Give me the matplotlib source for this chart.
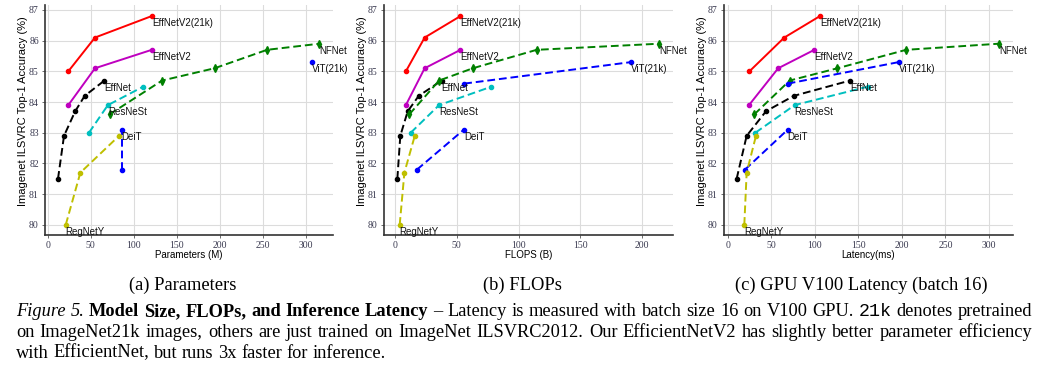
import numpy as np
import matplotlib
matplotlib.use("Agg")
import matplotlib.pyplot as plt

# ---------------- data ----------------
acc_effv2_21k = [85.0, 86.1, 86.8]
params_effv2_21k = [24, 55, 121]
flops_effv2_21k = [8.8, 24, 53]
lat_effv2_21k = [25, 65, 106]

acc_effv2 = [83.9, 85.1, 85.7]
params_effv2 = [24, 55, 121]
flops_effv2 = [8.8, 24, 53]
lat_effv2 = [24.5, 58, 99.5]

acc_effnet = [81.5, 82.9, 83.7, 84.2, 84.7]
params_effnet = [12, 19, 32, 43, 66]
flops_effnet = [1.9, 4.3, 10.3, 19.2, 37.8]
lat_effnet = [10.3, 21.8, 44, 75.8, 140.5]

acc_nfnet = [83.6, 84.7, 85.1, 85.7, 85.9]
params_nfnet = [72, 133, 194, 255, 316]
flops_nfnet = [11.6, 35.7, 63, 114.6, 214]
lat_nfnet = [30.6, 71.2, 126, 204.8, 311.5]

acc_vit = [84.6, 85.3]
params_vit = [np.nan, 307]
flops_vit = [56, 191]
lat_vit = [68.9, 196.3]

acc_resnest = [83.0, 83.9, 84.5]
params_resnest = [48, 70, 111]
flops_resnest = [12.7, 35.7, 78]
lat_resnest = [31.8, 76.9, 160.7]

acc_deit = [81.8, 83.1]
params_deit = [86, 86]
flops_deit = [17.8, 55.7]
lat_deit = [19.9, 68.9]

acc_regnety = [80.0, 81.7, 82.9]
params_regnety = [21, 38, 83]
flops_regnety = [3.8, 7.6, 16]
lat_regnety = [19.1, 21.8, 32.5]

model_names = ["EffNetV2(21k)", "EffNetV2", "EffNet", "NFNet", "ViT(21k)",
               "ResNeSt", "DeiT", "RegNetY"]
x_labels = ["Parameters (M)", "FLOPS (B)", "Latency(ms)"]
sub_captions = ["(a) Parameters", "(b) FLOPs", "(c) GPU V100 Latency (batch 16)"]
y_label = "Imagenet ILSVRC Top-1 Accuracy (%)"

# ---------------- styles ----------------
styles = {
    "EffNetV2(21k)": dict(color="r", ls="-", marker="o", label_idx=-1),
    "EffNetV2": dict(color="m", ls="-", marker="o", label_idx=-1),
    "EffNet": dict(color="k", ls="--", marker="o", label_idx=-1),
    "NFNet": dict(color="g", ls="--", marker="d", label_idx=-1),
    "ViT(21k)": dict(color="b", ls="--", marker="o", label_idx=-1),
    "ResNeSt": dict(color="c", ls="--", marker="o", label_idx=1),
    "DeiT": dict(color="b", ls="--", marker="o", label_idx=-1),
    "RegNetY": dict(color="y", ls="--", marker="o", label_idx=0),
}

accs = [acc_effv2_21k, acc_effv2, acc_effnet, acc_nfnet, acc_vit,
        acc_resnest, acc_deit, acc_regnety]
panel_x = [
    [params_effv2_21k, params_effv2, params_effnet, params_nfnet, params_vit,
     params_resnest, params_deit, params_regnety],
    [flops_effv2_21k, flops_effv2, flops_effnet, flops_nfnet, flops_vit,
     flops_resnest, flops_deit, flops_regnety],
    [lat_effv2_21k, lat_effv2, lat_effnet, lat_nfnet, lat_vit,
     lat_resnest, lat_deit, lat_regnety],
]

W, H = 1037, 370
fig = plt.figure(figsize=(W / 100, H / 100), dpi=100)

ax_px = [(45, 333), (384, 673), (724, 1013)]
top_px, bot_px = 5, 235
xlims = [(-3.1, 331.7), (-8.9, 225), (-4.2, 327.5)]
xticks = [range(0, 301, 50), range(0, 201, 50), range(0, 301, 50)]
SANS = "Liberation Sans"
SERIF = "Liberation Serif"

for p in range(3):
    l, r = ax_px[p]
    ax = fig.add_axes([l / W, 1 - bot_px / H, (r - l) / W, (bot_px - top_px) / H])
    for name, acc, xs in zip(model_names, accs, panel_x[p]):
        st = styles[name]
        ax.plot(xs, acc, color=st["color"], ls=st["ls"], lw=1.4,
                marker=st["marker"], ms=3.0 if st["marker"] == "o" else 4.0,
                dashes=(4, 2) if st["ls"] == "--" else (None, None))
        xs_arr = np.asarray(xs, dtype=float)
        i = st["label_idx"]
        ax.annotate(name, (xs_arr[i], acc[i]), xytext=(0, -1.5),
                    textcoords="offset points", ha="left", va="top",
                    fontsize=7, family=SANS, color="#111111",
                    annotation_clip=False)
    ax.set_xlim(*xlims[p])
    ax.set_ylim(79.67, 87.16)
    ax.set_yticks(range(80, 88))
    ax.set_xticks(list(xticks[p]))
    ax.grid(True, color="#dcdcdc", lw=0.8)
    ax.set_axisbelow(True)
    for s in ["top", "right"]:
        ax.spines[s].set_visible(False)
    for s in ["left", "bottom"]:
        ax.spines[s].set_color("#333333")
        ax.spines[s].set_linewidth(1.2)
    ax.tick_params(length=2, width=0.6, color="#555555", labelsize=7,
                   labelcolor="#3a3a50", pad=2.5)
    for lab in ax.get_xticklabels() + ax.get_yticklabels():
        lab.set_fontfamily(SERIF)
    ax.set_ylabel(y_label, fontsize=8, family=SANS)
    ax.yaxis.set_label_coords(-0.058, 0.539)
    ax.set_xlabel(x_labels[p], fontsize=7, family=SANS)
    ax.xaxis.set_label_coords(0.5, -0.064)

# sub captions
sub_cx = [183, 522, 861]
for cx, txt in zip(sub_cx, sub_captions):
    fig.text(cx / W, 1 - 290 / H, txt, ha="center", va="baseline",
             fontsize=13.3, family=SERIF)

# caption (justified)
CAP = 13.2
n = dict(family=SERIF)
it = dict(family=SERIF, style="italic")
bf = dict(family=SERIF, weight="bold")
mono = dict(family="Liberation Mono")
line1 = [("Figure", it), ("5.", it)] + \
    [(w, bf) for w in "Model Size, FLOPs, and Inference Latency".split()] + \
    [(w, n) for w in "– Latency is measured with batch size 16 on V100 GPU.".split()] + \
    [("21k", mono)] + [(w, n) for w in "denotes pretrained".split()]
line2 = [(w, n) for w in ("on ImageNet21k images, others are just trained on ImageNet "
                          "ILSVRC2012. Our EfficientNetV2 has slightly better parameter efficiency").split()]
line3 = [(w, n) for w in "with EfficientNet, but runs 3x faster for inference.".split()]

renderer = fig.canvas.get_renderer()
left_px, right_px = 16, 1032


def draw_line(words, base_y, justify):
    objs = []
    for w, kw in words:
        t = fig.text(0, 1 - base_y / H, w, ha="left", va="baseline",
                     fontsize=CAP, **kw)
        objs.append(t)
    widths = [t.get_window_extent(renderer=renderer).width for t in objs]
    if justify:
        gap = (right_px - left_px - sum(widths)) / (len(objs) - 1)
    else:
        gap = CAP * 0.25 * 100 / 72
    x = left_px
    for t, wd in zip(objs, widths):
        t.set_x(x / W)
        x += wd + gap


draw_line(line1, 316, True)
draw_line(line2, 337, True)
draw_line(line3, 357.5, False)

fig.savefig("out.png", dpi=100)
